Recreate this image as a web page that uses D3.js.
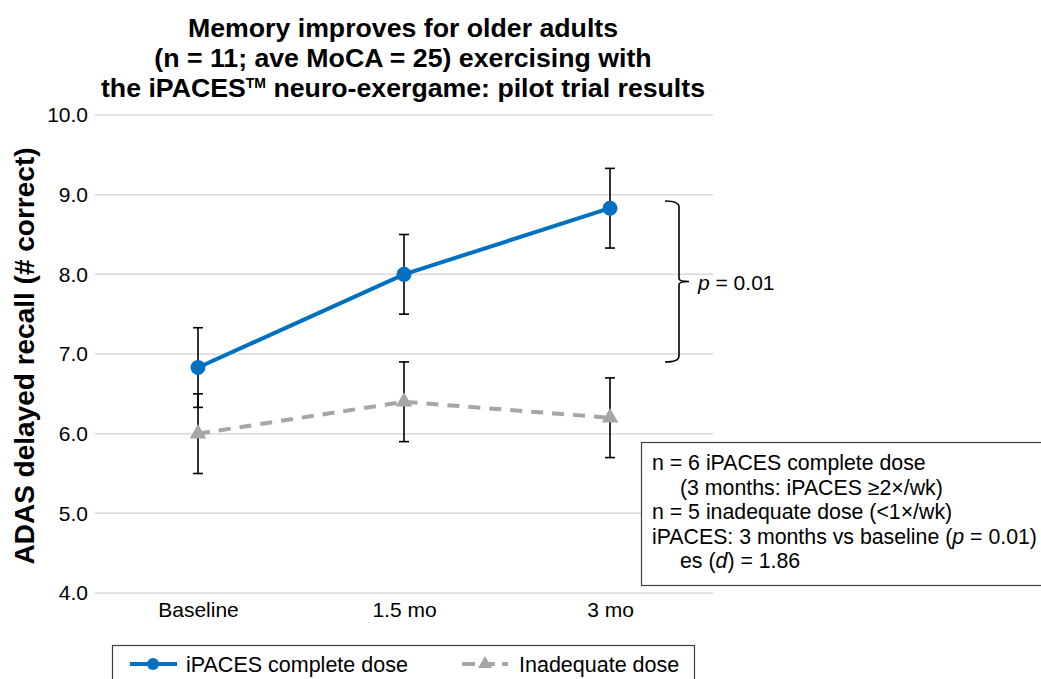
<!DOCTYPE html>
<html><head><meta charset="utf-8">
<script src="https://cdn.jsdelivr.net/npm/d3@7"></script>
<style>
body{margin:0;background:#fff;}
text{font-family:"Liberation Sans",Arial,sans-serif;}
</style></head>
<body>
<svg id="chart" width="1041" height="679"></svg>
<script>
const categories = ["Baseline", "1.5 mo", "3 mo"];
const completeDose = [6.83, 8.0, 8.83];
const completeErr = [0.5, 0.5, 0.5];
const inadequateDose = [6.0, 6.4, 6.2];
const inadequateErr = [0.5, 0.5, 0.5];
const yTicks = [4, 5, 6, 7, 8, 9, 10];
const titleLines = ["Memory improves for older adults", "(n = 11; ave MoCA = 25) exercising with", "the iPACES\u2122 neuro-exergame: pilot trial results"];
const bracketRange = [6.9, 8.92];
const noteLines = [
  {t:"n = 6 iPACES complete dose", indent:false},
  {t:"(3 months: iPACES \u22652\u00d7/wk)", indent:true},
  {t:"n = 5 inadequate dose (<1\u00d7/wk)", indent:false},
  {t:"iPACES: 3 months vs baseline (<i>p</i> = 0.01)", indent:false},
  {t:"es (<i>d</i>) = 1.86", indent:true}
];

const svg = d3.select("#chart");
const blue = "#0070c0", gray = "#a6a6a6";
const plotL = 95, plotR = 713;
const x = d3.scalePoint().domain(categories).range([plotL, plotR]).padding(0.5);
const y = d3.scaleLinear().domain([4, 10]).range([593, 115]);

// title
const title = svg.append("text").attr("x", 403).attr("text-anchor", "middle")
  .style("font-weight", "bold").style("font-size", "26.7px");
titleLines.forEach((l, i) => {
  const ts = title.append("tspan").attr("x", 403).attr("y", 37 + i * 30);
  if (l.includes("\u2122")) {
    const parts = l.split("\u2122");
    ts.append("tspan").text(parts[0]);
    ts.append("tspan").attr("dy", -9).style("font-size", "14px").text("TM");
    ts.append("tspan").attr("dy", 9).text(parts[1]);
  } else ts.text(l);
});

// gridlines
svg.append("g").selectAll("line").data(yTicks).join("line")
  .attr("x1", plotL).attr("x2", plotR).attr("y1", d => y(d)).attr("y2", d => y(d))
  .attr("stroke", "#d9d9d9").attr("stroke-width", 1.5);

// y axis labels
const yAxis = d3.axisLeft(y).tickValues(yTicks).tickFormat(d3.format(".1f")).tickSize(0).tickPadding(0);
svg.append("g").attr("transform", `translate(88,0)`).call(yAxis)
  .call(g => g.select(".domain").remove())
  .selectAll("text").style("font-size", "21px").style("font-family", "Liberation Sans, Arial").attr("fill", "#000");

// x axis labels
const xAxis = d3.axisBottom(x).tickSize(0).tickPadding(0);
svg.append("g").attr("transform", `translate(0,${y(4) + 9})`).call(xAxis)
  .call(g => g.select(".domain").remove())
  .selectAll("text").style("font-size", "21px").style("font-family", "Liberation Sans, Arial").attr("fill", "#000");

// y title
svg.append("text").attr("transform", "translate(34,356) rotate(-90)").attr("text-anchor", "middle")
  .style("font-weight", "bold").style("font-size", "28px").text("ADAS delayed recall (# correct)");

// error bars
function errBars(vals, errs) {
  const g = svg.append("g").attr("stroke", "#000").attr("stroke-width", 1.6);
  categories.forEach((c, i) => {
    const cx = x(c);
    g.append("line").attr("x1", cx).attr("x2", cx).attr("y1", y(vals[i] - errs[i])).attr("y2", y(vals[i] + errs[i]));
    [vals[i] - errs[i], vals[i] + errs[i]].forEach(v =>
      g.append("line").attr("x1", cx - 5).attr("x2", cx + 5).attr("y1", y(v)).attr("y2", y(v)));
  });
}
errBars(completeDose, completeErr);
errBars(inadequateDose, inadequateErr);

const line = d3.line().x((d, i) => x(categories[i])).y(d => y(d));
// inadequate
svg.append("path").datum(inadequateDose).attr("d", line).attr("fill", "none")
  .attr("stroke", gray).attr("stroke-width", 4).attr("stroke-dasharray", "12,9");
const tri = d3.symbol().type(d3.symbolTriangle).size(120);
svg.append("g").selectAll("path").data(inadequateDose).join("path")
  .attr("d", tri).attr("transform", (d, i) => `translate(${x(categories[i])},${y(d)})`).attr("fill", gray);

// complete
svg.append("path").datum(completeDose).attr("d", line).attr("fill", "none")
  .attr("stroke", blue).attr("stroke-width", 4);
svg.append("g").selectAll("circle").data(completeDose).join("circle")
  .attr("cx", (d, i) => x(categories[i])).attr("cy", d => y(d)).attr("r", 7.5).attr("fill", blue);

// bracket
const bTop = y(bracketRange[1]), bBot = y(bracketRange[0]), bx = 679, mid = (bTop + bBot) / 2;
svg.append("path").attr("fill", "none").attr("stroke", "#000").attr("stroke-width", 1.6)
  .attr("d", `M${bx - 14},${bTop} Q${bx},${bTop} ${bx},${bTop + 6} L${bx},${mid - 3} Q${bx},${mid} ${bx + 10},${mid} Q${bx},${mid} ${bx},${mid + 3} L${bx},${bBot - 6} Q${bx},${bBot} ${bx - 14},${bBot}`);
const pt = svg.append("text").attr("x", 698).attr("y", mid + 8).style("font-size", "21px");
pt.append("tspan").style("font-style", "italic").text("p");
pt.append("tspan").text(" = 0.01");

// note box
svg.append("rect").attr("x", 641.5).attr("y", 442.5).attr("width", 410).attr("height", 143)
  .attr("fill", "#fff").attr("stroke", "#404040").attr("stroke-width", 1.2);
noteLines.forEach((l, i) => {
  const t = svg.append("text").attr("x", l.indent ? 680 : 652).attr("y", 470 + i * 24.5).style("font-size", "21.3px");
  const parts = l.t.split(/(<i>.*?<\/i>)/);
  parts.forEach(p => {
    if (!p) return;
    if (p.startsWith("<i>")) t.append("tspan").style("font-style", "italic").text(p.replace(/<\/?i>/g, ""));
    else t.append("tspan").text(p);
  });
});

// legend
svg.append("rect").attr("x", 112.5).attr("y", 645.5).attr("width", 582).attr("height", 40)
  .attr("fill", "#fff").attr("stroke", "#404040").attr("stroke-width", 1.2);
const ly = 664;
svg.append("line").attr("x1", 130).attr("x2", 177).attr("y1", ly).attr("y2", ly).attr("stroke", blue).attr("stroke-width", 4);
svg.append("circle").attr("cx", 153).attr("cy", ly).attr("r", 6).attr("fill", blue);
svg.append("text").attr("x", 186).attr("y", ly + 8).style("font-size", "21.5px").text("iPACES complete dose");
svg.append("line").attr("x1", 462).attr("x2", 508).attr("y1", ly).attr("y2", ly).attr("stroke", gray).attr("stroke-width", 4).attr("stroke-dasharray", "13,7");
svg.append("path").attr("d", d3.symbol().type(d3.symbolTriangle).size(85)).attr("transform", `translate(485,${ly})`).attr("fill", gray);
svg.append("text").attr("x", 519).attr("y", ly + 8).style("font-size", "21.5px").text("Inadequate dose");
</script>
</body></html>
